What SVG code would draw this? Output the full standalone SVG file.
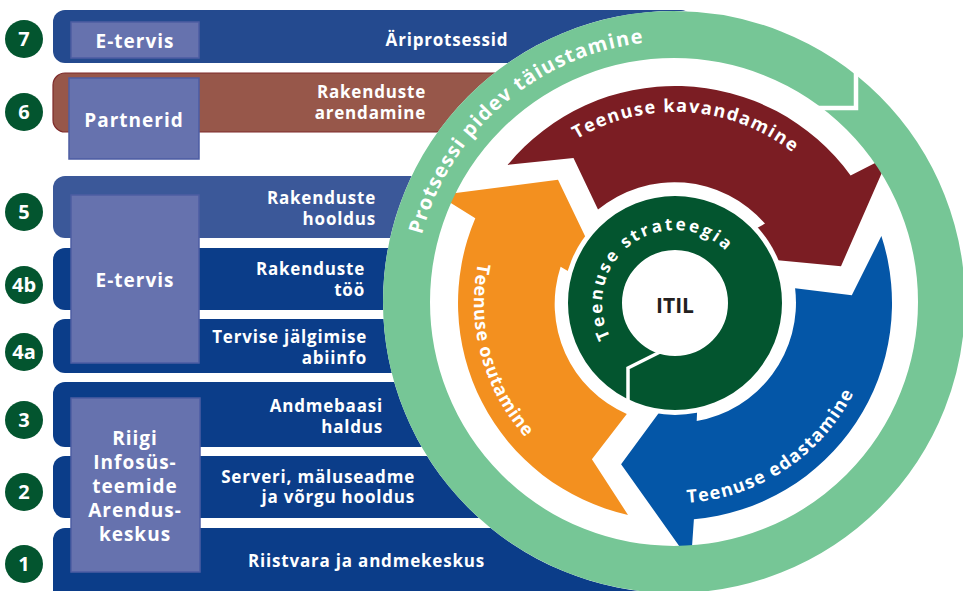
<svg xmlns="http://www.w3.org/2000/svg" width="963" height="591" viewBox="0 0 963 591">
<defs>
<style>
text { font-family: "Open Sans", "Noto Sans", "DejaVu Sans", sans-serif; font-weight: 700; fill: #ffffff; }
.num { font-size: 20px; text-anchor: middle; }
.bt { font-size: 17px; letter-spacing: 0.8px; }
.end { text-anchor: end; }
.mid { text-anchor: middle; }
.lb { font-size: 19px; letter-spacing: 1px; text-anchor: middle; }
.badge { fill: #03552F; }
.bar { fill: #0B3D89; }
.box { fill: #6672AE; stroke: #4D5DA3; stroke-width: 1.5; }
.arct { font-size: 18px; }
</style>
<path id="p-ring" d="M413.7,282.9 A261,261 0 0 1 693.1,41.7"/>
<path id="p-kav" d="M548.9,159.5 A191,191 0 0 1 818.5,176.9"/>
<path id="p-eda" d="M635.1,499.0 A200,200 0 0 0 871.0,342.9"/>
<path id="p-osu" d="M500.3,203.6 A201,201 0 0 0 575.6,477.7"/>
<path id="p-str" d="M634.2,363.5 A73,73 0 1 1 745.2,282.9"/>
</defs>

<g id="bars">
  <g id="row7">
    <rect x="53" y="10" width="640" height="53" rx="12" fill="#244A8F"/>
  </g>
  <g id="row6">
    <rect x="53" y="73" width="640" height="59" rx="12" fill="#97574A" stroke="#7E2A2A" stroke-width="1.2"/>
  </g>
  <g id="row5">
    <rect x="53" y="176" width="640" height="62" rx="12" fill="#3B5899"/>
  </g>
  <g id="row4b">
    <rect class="bar" x="53" y="248" width="640" height="62" rx="12"/>
  </g>
  <g id="row4a">
    <rect class="bar" x="53" y="319" width="640" height="54" rx="12"/>
  </g>
  <g id="row3">
    <rect class="bar" x="53" y="382" width="640" height="65" rx="12"/>
  </g>
  <g id="row2">
    <rect class="bar" x="53" y="456" width="640" height="62" rx="12"/>
  </g>
  <g id="row1">
    <rect class="bar" x="53" y="528" width="640" height="80" rx="12"/>
  </g>
</g>

<g id="bar-texts">
  <text class="bt mid" x="447" y="46">Äriprotsessid</text>
  <text class="bt end" x="426" y="98">Rakenduste</text>
  <text class="bt end" x="426" y="119">arendamine</text>
  <text class="bt end" x="376" y="204">Rakenduste</text>
  <text class="bt end" x="376" y="225">hooldus</text>
  <text class="bt end" x="365" y="275">Rakenduste</text>
  <text class="bt end" x="365" y="296">töö</text>
  <text class="bt end" x="367" y="343">Tervise jälgimise</text>
  <text class="bt end" x="367" y="364">abiinfo</text>
  <text class="bt end" x="383" y="412">Andmebaasi</text>
  <text class="bt end" x="383" y="433">haldus</text>
  <text class="bt end" x="415" y="483">Serveri, mäluseadme</text>
  <text class="bt end" x="415" y="503">ja võrgu hooldus</text>
  <text class="bt end" x="485" y="567">Riistvara ja andmekeskus</text>
</g>

<g id="owner-etervis-top">
  <rect class="box" x="71" y="22" width="128" height="36"/>
  <text class="lb" x="135" y="48">E-tervis</text>
</g>
<g id="owner-partnerid">
  <rect class="box" x="69" y="78" width="130" height="81"/>
  <text class="lb" x="134" y="127">Partnerid</text>
</g>
<g id="owner-etervis">
  <rect class="box" x="71" y="195" width="128" height="168"/>
  <text class="lb" x="135" y="287">E-tervis</text>
</g>
<g id="owner-ria">
  <rect class="box" x="71" y="398" width="129" height="174"/>
  <text class="lb" x="135" y="445">Riigi</text>
  <text class="lb" x="135" y="469">Infosüs-</text>
  <text class="lb" x="135" y="493">teemide</text>
  <text class="lb" x="135" y="517">Arendus-</text>
  <text class="lb" x="135" y="541">keskus</text>
</g>

<g id="badges">
  <g id="badge7"><circle class="badge" cx="24" cy="39" r="19"/><text class="num" x="24" y="46">7</text></g>
  <g id="badge6"><circle class="badge" cx="24" cy="112" r="19"/><text class="num" x="24" y="119">6</text></g>
  <g id="badge5"><circle class="badge" cx="24" cy="212" r="19"/><text class="num" x="24" y="219">5</text></g>
  <g id="badge4b"><circle class="badge" cx="24" cy="285" r="19"/><text class="num" x="24" y="292">4b</text></g>
  <g id="badge4a"><circle class="badge" cx="24" cy="352" r="19"/><text class="num" x="24" y="359">4a</text></g>
  <g id="badge3"><circle class="badge" cx="24" cy="420" r="19"/><text class="num" x="24" y="427">3</text></g>
  <g id="badge2"><circle class="badge" cx="24" cy="492" r="19"/><text class="num" x="24" y="499">2</text></g>
  <g id="badge1"><circle class="badge" cx="24" cy="564" r="19"/><text class="num" x="24" y="571">1</text></g>
</g>

<g id="cycle">
  <circle cx="674" cy="302" r="291" fill="#ffffff"/>
  <g id="arrow-kavandamine">
    <path fill="#7B1D23" d="M507.6,164.9 A217,217 0 0 1 850.6,175.4 L889.3,155.7 L841.0,266.2 L709.4,253.8 L765.0,223.6 A120,120 0 0 0 598.0,209.6 L573.5,158.0 Z"/>
  </g>
  <g id="arrow-edastamine">
    <path fill="#0456A7" d="M881.4,236.0 A217,217 0 0 1 693.9,519.2 L690.9,562.5 L621.1,464.2 L699.4,357.8 L696.7,421.0 A120,120 0 0 0 795.1,288.3 L851.8,295.3 Z"/>
  </g>
  <g id="arrow-osutamine">
    <path fill="#F3901F" d="M628.0,514.9 A217,217 0 0 1 475.3,218.2 L438.4,195.2 L558.0,179.7 L615.1,298.8 L560.6,266.7 A120,120 0 0 0 626.8,414.0 L591.9,459.3 Z"/>
  </g>
  <circle cx="675" cy="303" r="112" fill="#ffffff"/>
  <g id="strateegia">
    <circle cx="675" cy="303" r="80" fill="none" stroke="#03552F" stroke-width="54"/>
    <polyline points="664,350 628,368 628,404" fill="none" stroke="#ffffff" stroke-width="3.5"/>
    <text font-size="17" letter-spacing="2.6"><textPath href="#p-str" startOffset="50%" text-anchor="middle">Teenuse strateegia</textPath></text>
  </g>
  <g id="itil">
    <text x="675" y="313" font-size="21" fill="#231F20" style="fill:#231F20" text-anchor="middle">ITIL</text>
  </g>
  <g id="improvement-ring">
    <circle cx="674" cy="302" r="267.5" fill="none" stroke="#76C696" stroke-width="47"/>
    <polyline points="856,56 856,108 816,108" fill="none" stroke="#ffffff" stroke-width="4.5"/>
    <text font-size="20" letter-spacing="1.3"><textPath href="#p-ring" startOffset="50%" text-anchor="middle">Protsessi pidev täiustamine</textPath></text>
  </g>
  <text class="arct" letter-spacing="1.5"><textPath href="#p-kav" startOffset="50%" text-anchor="middle">Teenuse kavandamine</textPath></text>
  <text class="arct" letter-spacing="1.3"><textPath href="#p-eda" startOffset="50%" text-anchor="middle">Teenuse edastamine</textPath></text>
  <text class="arct" letter-spacing="0.7"><textPath href="#p-osu" startOffset="50%" text-anchor="middle">Teenuse osutamine</textPath></text>
</g>
</svg>
